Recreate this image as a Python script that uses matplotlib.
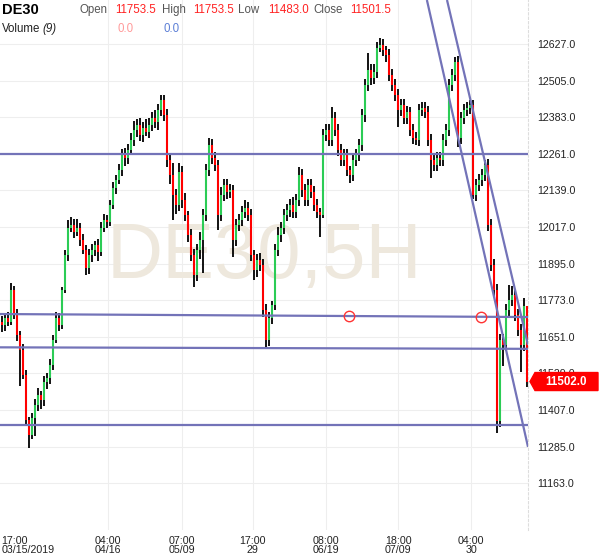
import numpy as np
import matplotlib
matplotlib.use("Agg")
import matplotlib.pyplot as plt
from matplotlib.patches import Polygon
from matplotlib.transforms import blended_transform_factory

plt.rcParams['font.family'] = ['Liberation Sans', 'DejaVu Sans']

first_open = 11700
closes = [
    11691, 11714, 11701, 11807, 11724, 11657, 11607, 11524, 11374, 11324,
    11381, 11424, 11457, 11441, 11501, 11514, 11557, 11641, 11714, 11691,
    11807, 11924, 12014, 12024, 12001, 12014, 11974, 11941, 11881, 11924,
    11941, 11957, 11934, 12014, 12041, 12034, 12091, 12147, 12174, 12207,
    12257, 12247, 12274, 12307, 12341, 12357, 12324, 12347, 12334, 12357,
    12381, 12367, 12407, 12441, 12391, 12241, 12191, 12124, 12091, 12200,
    12107, 12057, 11991, 11924, 11857, 11941, 11974, 12057, 12207, 12291,
    12247, 12224, 12057, 12124, 12157, 12134, 12141, 11974, 12024, 12041,
    12067, 12081, 12057, 11924, 11874, 11907, 11891, 11741, 11641, 11714,
    11757, 11941, 11991, 12014, 12057, 12074, 12091, 12067, 12107, 12191,
    12141, 12107, 12157, 12134, 12091, 12067, 12057, 12324, 12341, 12307,
    12381, 12341, 12274, 12241, 12257, 12207, 12191, 12241, 12257, 12291,
    12391, 12491, 12541, 12514, 12534, 12614, 12624, 12607, 12591, 12524,
    12491, 12457, 12407, 12424, 12381, 12401, 12341, 12314, 12307, 12407,
    12414, 12401, 12307, 12241, 12224, 12247, 12241, 12307, 12341, 12491,
    12524, 12567, 12314, 12381, 12407, 12414, 12424, 12124, 12157, 12174,
    12191, 12224, 12024, 11891, 11807, 11370, 11640, 11624, 11741, 11774,
    11791, 11724, 11674, 11624, 11753.5, 11501.5,
]
wick_up = [
    20, 15, 20, 23, 15, 20, 15, 20, 15, 10,
    15, 20, 25, 15, 20, 15, 20, 15, 20, 15,
    10, 15, 27, 25, 20, 30, 15, 20, 15, 20,
    20, 15, 20, 20, 20, 15, 15, 20, 15, 20,
    20, 25, 20, 25, 30, 20, 25, 20, 30, 25,
    20, 25, 20, 16, 15, 20, 20, 39, 20, 30,
    20, 25, 15, 20, 20, 20, 25, 20, 20, 22,
    20, 20, 15, 25, 20, 20, 20, 15, 20, 20,
    20, 25, 20, 20, 15, 20, 25, 20, 20, 20,
    15, 20, 25, 20, 20, 20, 20, 25, 20, 26,
    20, 20, 20, 20, 20, 20, 15, 20, 20, 20,
    36, 20, 20, 20, 20, 20, 15, 20, 20, 20,
    20, 20, 56, 20, 25, 20, 23, 20, 15, 20,
    20, 20, 20, 20, 20, 20, 15, 20, 20, 20,
    20, 20, 20, 20, 20, 20, 20, 20, 20, 20,
    20, 17, 20, 20, 20, 20, 17, 15, 20, 20,
    20, 17, 20, 20, 20, 20, 20, 20, 20, 50,
    30, 20, 20, 20, 27, 0,
]
wick_dn = [
    25, 20, 15, 10, 15, 20, 120, 15, 15, 43,
    15, 60, 20, 30, 20, 25, 20, 15, 10, 20,
    15, 10, 20, 15, 20, 15, 20, 15, 25, 20,
    25, 20, 30, 15, 15, 20, 15, 15, 20, 15,
    20, 25, 20, 15, 20, 25, 20, 25, 15, 20,
    20, 20, 25, 20, 20, 25, 30, 83, 30, 20,
    25, 20, 25, 20, 40, 20, 30, 110, 20, 20,
    20, 20, 50, 20, 20, 25, 20, 57, 20, 20,
    20, 20, 20, 20, 33, 25, 20, 25, 27, 20,
    20, 15, 20, 25, 20, 20, 25, 20, 20, 20,
    25, 20, 20, 20, 20, 20, 73, 10, 20, 20,
    20, 20, 20, 20, 20, 20, 27, 20, 20, 20,
    20, 25, 20, 25, 20, 20, 15, 20, 25, 20,
    20, 20, 56, 20, 20, 20, 20, 20, 15, 20,
    20, 20, 20, 60, 20, 20, 20, 20, 20, 20,
    20, 20, 30, 20, 20, 20, 20, 15, 20, 20,
    20, 20, 20, 20, 20, 40, 20, 70, 20, 20,
    20, 20, 20, 90, 20, 18.5,
]

price_ticks = [11163, 11285, 11407, 11529, 11651, 11773, 11895, 12017, 12139, 12261, 12383, 12505, 12627]
time_pos = [35.5, 60, 83.8, 108.3, 132.2, 156.5]
time_labels = ["04:00\n04/16", "07:00\n05/09", "17:00\n29", "08:00\n06/19", "18:00\n07/09", "04:00\n30"]
first_label = "17:00\n03/15/2019"

# drawn trend lines: (x0, p0, x1, p1) in bar index / price
hlines = [(-0.5, 12261, 175.5, 12261), (-0.5, 11727, 175.5, 11717),
          (-0.5, 11616, 175.5, 11611), (-0.5, 11357, 175.5, 11357)]
dlines = [(141.8, 12774, 175.5, 11284), (148.5, 12774, 175.5, 11624)]
circ_x = [115.8, 159.8]
circ_p = [11721, 11717]
last_price = 11502.0

closes = np.array(closes, dtype=float)
opens = np.concatenate([[first_open], closes[:-1]])
highs = np.maximum(opens, closes) + np.array(wick_up)
lows = np.minimum(opens, closes) - np.array(wick_dn)
idx = np.arange(len(closes))
up = closes >= opens

fig = plt.figure(figsize=(6, 5.58), dpi=100)
ax = fig.add_axes([0, 28 / 558, 528 / 600, 530 / 558])
ax.set_xlim(-0.5, len(closes) - 0.5)
ax.set_ylim(11007, 12774)

# watermark
ax.text(264 / 600, 1 - 258 / 558, "DE30,5H", transform=fig.transFigure, fontsize=56,
        color='#eee8dd', ha='center', va='center', zorder=0.5)

for p in price_ticks:
    ax.axhline(p, color='#eeeeee', lw=0.8, zorder=0)
for t in time_pos:
    ax.axvline(t, color='#eeeeee', lw=0.8, zorder=0)

ax.vlines(idx, lows, highs, color='black', lw=1.3, zorder=2)
ax.vlines(idx[up], opens[up], closes[up], color='#2bcc55', lw=1.5, zorder=3)
ax.vlines(idx[~up], opens[~up], closes[~up], color='#ff0000', lw=1.5, zorder=3)

for x0, p0, x1, p1 in hlines + dlines:
    ax.plot([x0, x1], [p0, p1], color='#7373b8', lw=1.6, zorder=4, solid_capstyle='butt')
ax.plot(circ_x, circ_p, 'o', mfc='none', mec='#ff3333', ms=7.5, mew=1, zorder=5)

for s in ['top', 'left', 'bottom']:
    ax.spines[s].set_visible(False)
ax.spines['right'].set_color('#dddddd')
ax.spines['right'].set_linestyle((0, (2, 2)))

ax.yaxis.tick_right()
ax.set_yticks(price_ticks)
ax.set_yticklabels([f"{p:.1f}" for p in price_ticks])
ax.tick_params(axis='y', length=0, pad=6.5, labelsize=7.7, labelcolor='#222222')
ax.set_xticks(time_pos)
ax.set_xticklabels(time_labels, linespacing=0.9)
ax.tick_params(axis='x', length=0, pad=4, labelsize=7.7, labelcolor='#222222')
ax.text(0.003, -0.011, first_label, transform=ax.transAxes, ha='left', va='top',
        fontsize=7.7, color='#222222', linespacing=0.9)

# last price tag
tr = blended_transform_factory(fig.transFigure, ax.transData)
tag = Polygon([(530 / 600, last_price), (535 / 600, last_price + 30), (598 / 600, last_price + 30),
               (598 / 600, last_price - 30), (535 / 600, last_price - 30)],
              closed=True, transform=tr, color='#ff0000', clip_on=False, zorder=6)
fig.add_artist(tag)
fig.text(566 / 600, 0, f"{last_price:.1f}", transform=tr, ha='center', va='center',
         color='white', fontsize=8.3, fontweight='bold', zorder=7).set_y(last_price)

# header
def ftxt(x, y, s, **kw):
    fig.text(x / 600, 1 - y / 558, s, va='center', **kw)

ftxt(2, 10, "DE30", fontsize=10.5, fontweight='bold', color='black')
ftxt(80, 10, "Open", fontsize=8.3, color='#555555')
ftxt(115, 10, "11753.5", fontsize=8.3, color='#ff2222')
ftxt(162, 10, "High", fontsize=8.3, color='#555555')
ftxt(193, 10, "11753.5", fontsize=8.3, color='#ff2222')
ftxt(238, 10, "Low", fontsize=8.3, color='#555555')
ftxt(268, 10, "11483.0", fontsize=8.3, color='#ff2222')
ftxt(313, 10, "Close", fontsize=8.3, color='#555555')
ftxt(350, 10, "11501.5", fontsize=8.3, color='#ff2222')
ftxt(2, 29, "Volume", fontsize=8.3, color='#222222')
ftxt(42, 29, "(9)", fontsize=8.3, color='#222222', style='italic')
ftxt(118, 29, "0.0", fontsize=8.3, color='#ff9a9a')
ftxt(163, 29, "0.0", fontsize=8.3, color='#5c7fd6')

fig.savefig("out.png", dpi=100)
